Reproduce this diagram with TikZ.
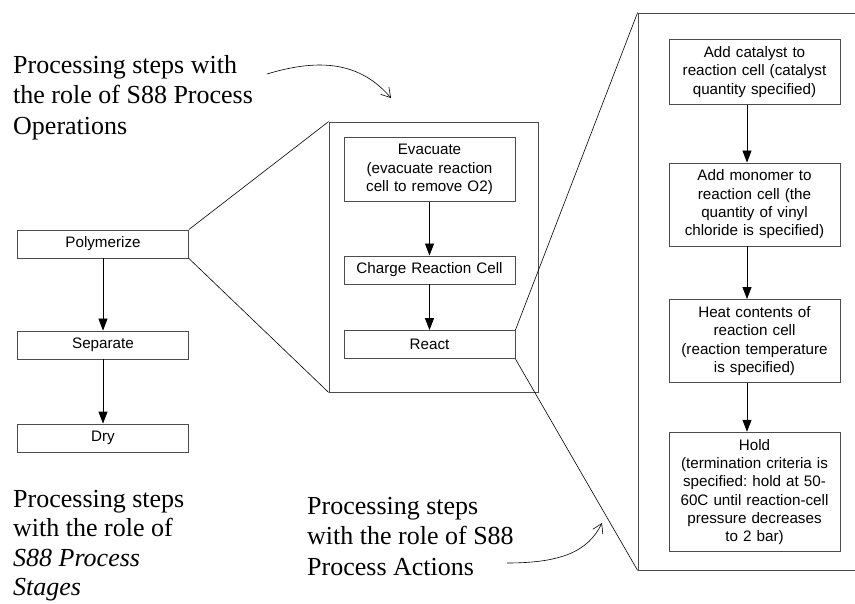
\documentclass[tikz,border=0pt]{standalone}
\usepackage{fontspec}
\setmainfont{Liberation Serif}
\setsansfont{Liberation Sans}
\usepackage{tikz}
\usetikzlibrary{arrows.meta,positioning}
\frenchspacing
\newcommand\bxfont{\sffamily\fontsize{15.2}{18.3}\selectfont}
\newcommand\ntfont{\rmfamily\fontsize{26}{30.5}\selectfont}
\tikzset{box/.style={draw=black!70,line width=0.8pt,align=center,font=\bxfont,
 minimum width=171pt,text width=163pt,inner xsep=4pt,inner ysep=7pt,minimum height=28pt},
 arr/.style={-{Triangle[length=12pt,width=9pt]},line width=0.8pt},
 frm/.style={draw=black!70,line width=0.8pt,inner sep=0pt},
 zm/.style={line width=0.6pt},
 note/.style={align=left,font=\ntfont,anchor=north west,inner sep=0pt},
 crv/.style={-{Straight Barb[length=9pt,width=11pt]},line width=0.6pt}}
\begin{document}
\begin{tikzpicture}[x=1pt,y=-1pt]
\clip (0,0) rectangle (855,604);
\node[note] (tops) at (13,55) {Processing steps with\\the role of S88 Process\\Operations};
\node[note,font=\rmfamily\fontsize{26}{29.5}\selectfont] (lows) at (13,490) {Processing steps\\with the role of\\\textit{S88 Process}\\\textit{Stages}};
\node[note] (mids) at (307,497) {Processing steps\\with the role of S88\\Process Actions};
\node[box] (poly) at (103,244) {Polymerize};
\node[box] (sep) at (103,345) {Separate};
\node[box] (dry) at (103,438) {Dry};
\node[frm,minimum width=209pt,minimum height=270pt] (ofr) at (433.5,257) {};
\node[box] (evac) at (429.5,169.5) {Evacuate\\(evacuate reaction\\cell to remove O2)};
\node[box] (chg) at (429.5,270) {Charge Reaction Cell};
\node[box] (react) at (429.5,344.5) {React};
\node[frm,minimum width=240pt,minimum height=557pt] (afr) at (758,291.5) {};
\node[box] (a1) at (754.5,72) {Add catalyst to\\reaction cell (catalyst\\quantity specified)};
\node[box] (a2) at (754.5,204.5) {Add monomer to\\reaction cell (the\\quantity of vinyl\\chloride is specified)};
\node[box] (a3) at (754.5,341) {Heat contents of\\reaction cell\\(reaction temperature\\is specified)};
\node[box] (a4) at (754.5,492) {Hold\\(termination criteria is\\specified: hold at 50-\\60C until reaction-cell\\pressure decreases\\to 2 bar)};
\coordinate (c1) at (267,74);
\coordinate (c2) at (391,98);
\coordinate (c3) at (507,563);
\coordinate (c4) at (602,523);
\draw[arr] (poly)--(sep);
\draw[arr] (sep)--(dry);
\draw[arr] (evac)--(chg);
\draw[arr] (chg)--(react);
\draw[arr] ([xshift=-7.5pt]a1.south)--([xshift=-7.5pt]a2.north);
\draw[arr] ([xshift=-7.5pt]a2.south)--([xshift=-7.5pt]a3.north);
\draw[arr] ([xshift=-7.5pt]a3.south)--([xshift=-7.5pt]a4.north);
\draw[zm] (poly.north east)--(ofr.north west);
\draw[zm] (poly.south east)--(ofr.south west);
\draw[zm] (react.north east)--(afr.north west);
\draw[zm] (react.south east)--(afr.south west);
\draw[crv] (c1) .. controls (320,58) and (360,62) .. (c2);
\draw[crv] (c3) .. controls (560,563) and (588,552) .. (c4);
\end{tikzpicture}
\end{document}
